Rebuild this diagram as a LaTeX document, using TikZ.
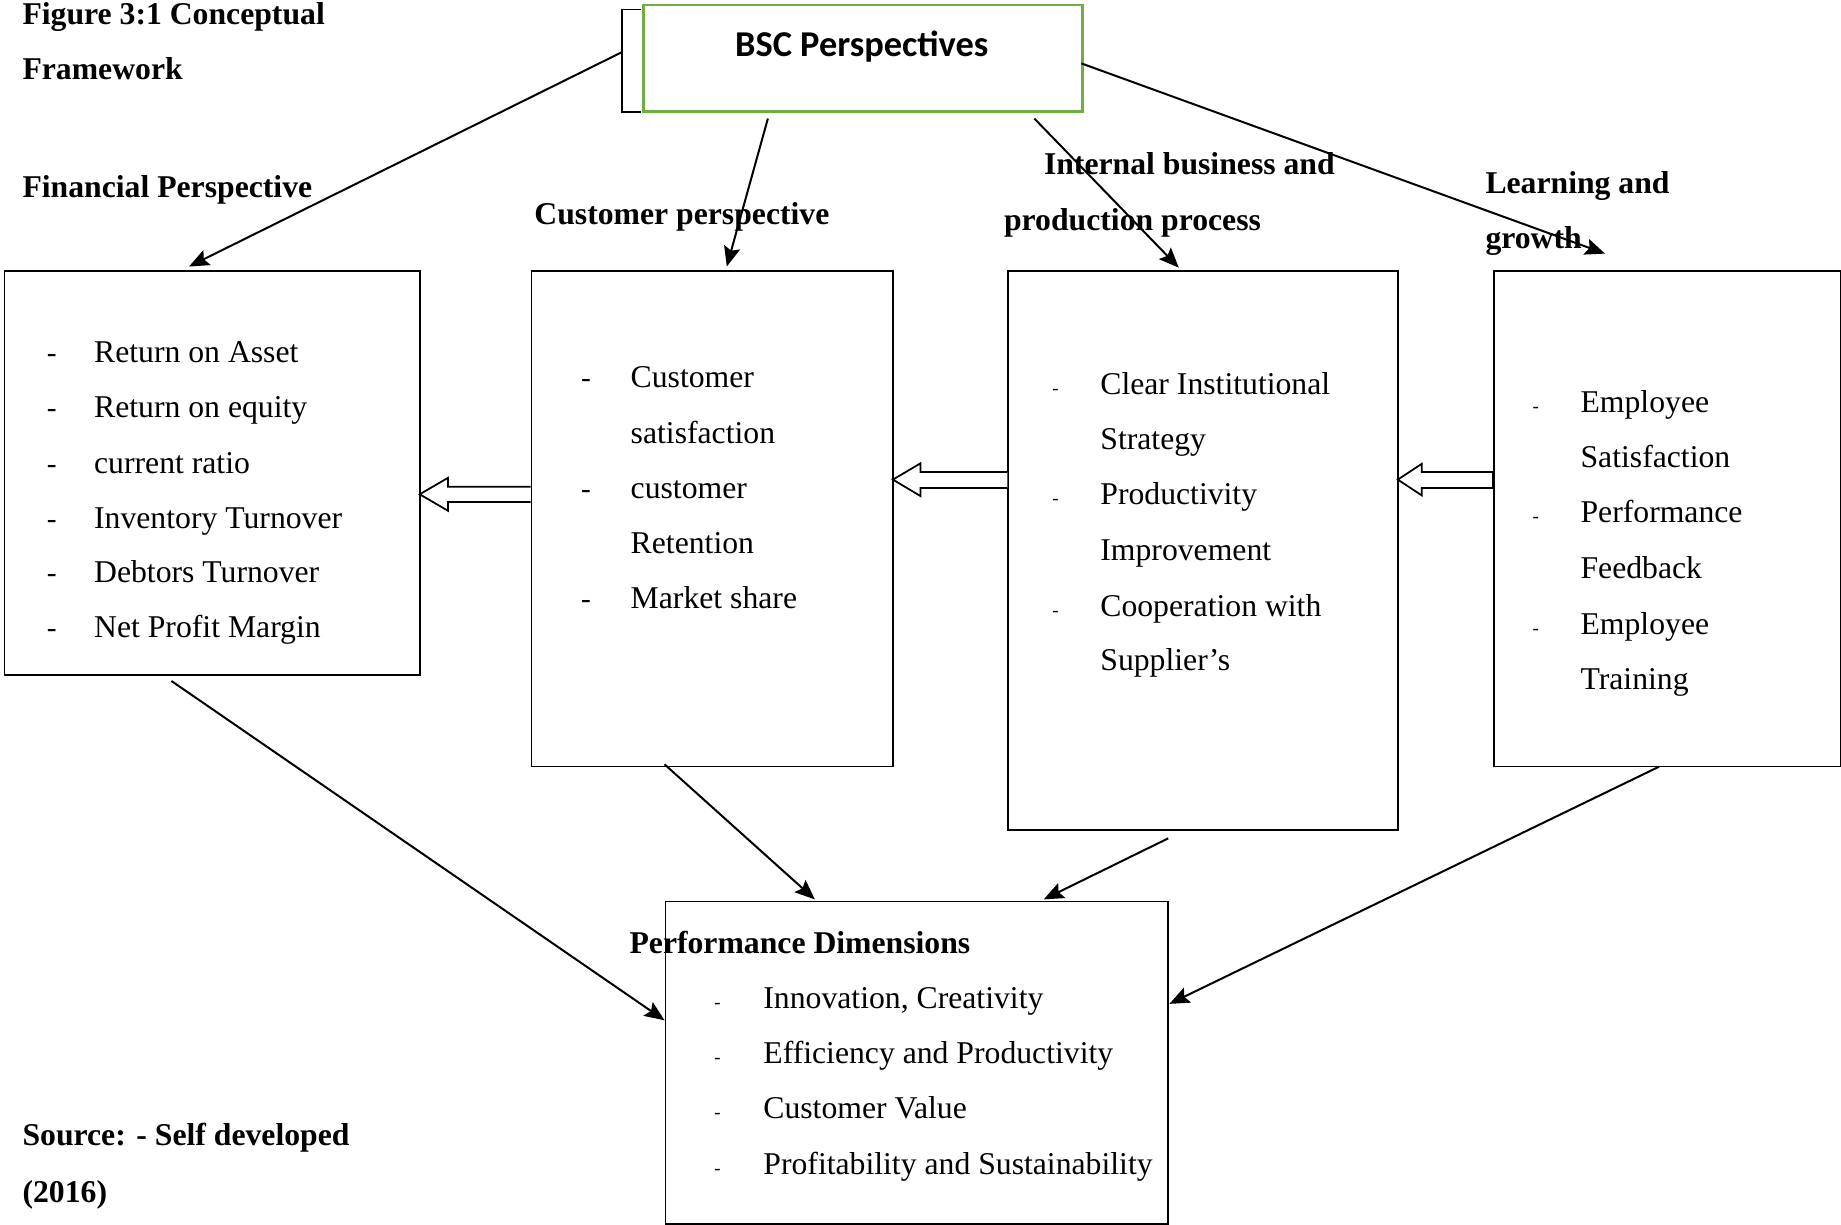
\documentclass[tikz,border=0pt]{standalone}
\usepackage{fontspec}
\setmainfont{Liberation Serif}
\newfontfamily\calib{Carlito}
\usetikzlibrary{arrows.meta}
\begin{document}
\begin{tikzpicture}[x=1pt,y=-1pt,
  box/.style={draw, line width=1.5pt, inner sep=0pt, anchor=north west},
  txt/.style={anchor=base west, inner sep=0pt, font=\fontsize{27}{47}\selectfont},
  hd/.style={anchor=base west, inner sep=0pt, font=\fontsize{27}{47}\selectfont\bfseries},
  dsh/.style={anchor=base, inner sep=0pt, font=\fontsize{25}{47}\selectfont},
  sdsh/.style={anchor=base, inner sep=0pt, font=\fontsize{16}{20}\selectfont},
  conn/.style={line width=1.7pt, -{Stealth[length=17pt,width=14pt,inset=3pt]}},
  blk/.style={draw, line width=1.5pt, fill=white, line join=miter}
]
\useasboundingbox (0,0) rectangle (1568,1043);

% boxes
\node[box, draw={rgb,255:red,112;green,173;blue,71}, line width=2.4pt, minimum width=374pt, minimum height=91pt] (bsc) at (547,3) {};
\node[anchor=base, inner sep=0pt, font=\calib\fontsize{31}{36}\selectfont\bfseries] (bsct) at (734,48) {BSC Perspectives};
\draw[line width=1.5pt] (546,8) -- (529.5,8) -- (529.5,95.5) -- (546,95.5);
\coordinate (bscL) at (529.5,44.5);

\node[box, minimum width=354pt, minimum height=344pt] (fin) at (3,230) {};
\node[box, minimum width=308pt, minimum height=422pt] (cus) at (452,230) {};
\node[box, minimum width=332pt, minimum height=476pt] (int) at (858,230) {};
\node[box, minimum width=295pt, minimum height=422pt] (lrn) at (1272,230) {};
\node[box, minimum width=428pt, minimum height=275pt] (prf) at (566,767) {};

% headings
\node[hd] (h1) at (19,21) {Figure 3:1 Conceptual};
\node[hd] (h2) at (19,68) {Framework};
\node[hd] (h3) at (19,168) {Financial Perspective};
\node[hd] (h4) at (455,191) {Customer perspective};
\node[hd] (h5) at (889,149) {Internal business and};
\node[hd] (h6) at (855,196) {production process};
\node[hd] (h7) at (1265,165) {Learning and};
\node[hd] (h8) at (1265,212) {growth};
\node[hd] (h9) at (536,812) {Performance Dimensions};
\node[hd] (h10) at (19,976) {Source: - Self developed};
\node[hd] (h11) at (19,1024) {(2016)};

% financial items
\foreach \yy/\tt [count=\i] in {309/Return on Asset, 356/Return on equity, 403/current ratio, 450/Inventory Turnover, 496/Debtors Turnover, 543/Net Profit Margin}{
  \node[dsh] (fd\i) at (44,\yy) {-};
  \node[txt] (ft\i) at (80,\yy) {\tt};
}
% customer items
\foreach \yy/\tt [count=\i] in {330/Customer, 378/satisfaction, 425/customer, 471/Retention, 518/Market share}{
  \node[txt] (ct\i) at (537,\yy) {\tt};
}
\foreach \yy [count=\i] in {330,425,518}{ \node[dsh] (cd\i) at (499,\yy) {-}; }
% internal items
\foreach \yy/\tt [count=\i] in {336/Clear Institutional, 383/Strategy, 430/Productivity, 477/Improvement, 525/Cooperation with, 571/Supplier’s}{
  \node[txt] (it\i) at (937,\yy) {\tt};
}
\foreach \yy [count=\i] in {336,430,525}{ \node[sdsh] (id\i) at (899,\yy) {-}; }
% learning items
\foreach \yy/\tt [count=\i] in {351/Employee, 398/Satisfaction, 445/Performance, 493/Feedback, 540/Employee, 587/Training}{
  \node[txt] (lt\i) at (1346,\yy) {\tt};
}
\foreach \yy [count=\i] in {351,445,540}{ \node[sdsh] (ld\i) at (1308,\yy) {-}; }
% performance items
\foreach \yy/\tt [count=\i] in {859/{Innovation, Creativity}, 906/Efficiency and Productivity, 953/Customer Value, 1000/Profitability and Sustainability}{
  \node[sdsh] (pd\i) at (611,\yy) {-};
  \node[txt] (pt\i) at (650,\yy) {\tt};
}

% connector end points
\coordinate (finT) at (161,227);
\coordinate (cusT) at (619,227);
\coordinate (intT) at (1004,228);
\coordinate (lrnT) at (1367,216);
\coordinate (bscB1) at (654,101);
\coordinate (bscB2) at (881,101);
\coordinate (bscR) at (921,54);
\coordinate (finB) at (146,580);
\coordinate (cusB) at (566,651);
\coordinate (intB) at (995,714);
\coordinate (lrnB) at (1413,653);
\coordinate (prfL) at (566,869);
\coordinate (prfT1) at (694,766);
\coordinate (prfT2) at (889,766);
\coordinate (prfR) at (996,855);

\draw[conn] (bscL) -- (finT);
\draw[conn] (bscB1) -- (cusT);
\draw[conn] (bscB2) -- (intT);
\draw[conn] (bscR) -- (lrnT);
\draw[conn] (finB) -- (prfL);
\draw[conn] (cusB) -- (prfT1);
\draw[conn] (intB) -- (prfT2);
\draw[conn] (lrnB) -- (prfR);

% block arrows
\draw[blk] (452,414.5) -- (381.5,414.5) -- (381.5,407) -- (357.5,421) -- (381.5,435) -- (381.5,427.5) -- (452,427.5);
\draw[blk] (858,402) -- (784,402) -- (784,394.6) -- (760.5,408.5) -- (784,422.5) -- (784,415.6) -- (858,415.6);
\draw[blk] (1272,402) -- (1211,402) -- (1211,395) -- (1190.5,408.5) -- (1211,422) -- (1211,415.6) -- (1272,415.6);
\draw[line width=2.6pt] (1272,401) -- (1272,416.6);
\end{tikzpicture}
\end{document}
